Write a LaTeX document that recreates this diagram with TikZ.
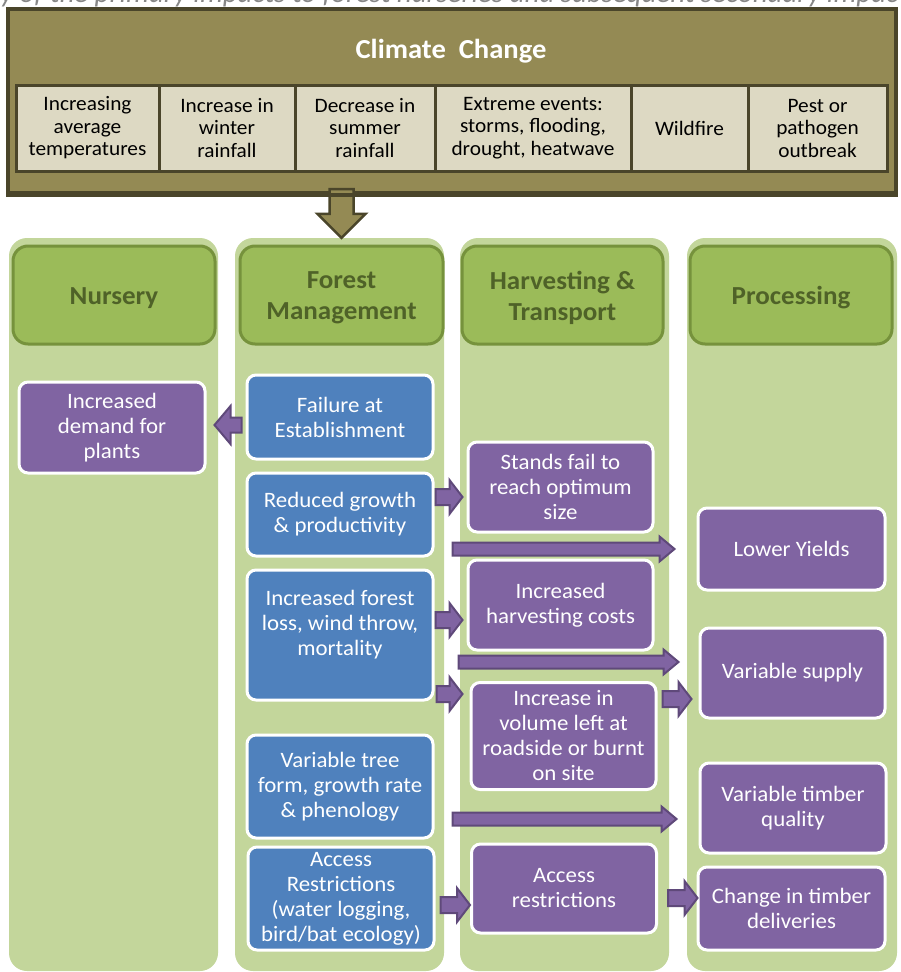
\documentclass[tikz,border=0pt]{standalone}
\usepackage{fontspec}
\setmainfont{Carlito}[FakeStretch=1.04]
\usetikzlibrary{calc}

\definecolor{tanDark}{RGB}{148,138,84}
\definecolor{tanLine}{RGB}{74,69,42}
\definecolor{tanCell}{RGB}{221,217,195}
\definecolor{colGreen}{RGB}{195,214,155}
\definecolor{headGreen}{RGB}{155,187,89}
\definecolor{headLine}{RGB}{118,146,60}
\definecolor{headText}{RGB}{79,98,40}
\definecolor{boxBlue}{RGB}{79,129,189}
\definecolor{boxPurple}{RGB}{128,100,162}
\definecolor{arrowLine}{RGB}{95,73,122}
\definecolor{capGrey}{RGB}{135,135,135}

% Horizontal block arrow: #1 tail point, #2 tip point,
% #3 shaft half width, #4 head half width, #5 head length
\newcommand\blockarrow[5]{%
  \filldraw[blockarrowsty] let \p1=#1, \p2=#2, \n1={(\x2>\x1)?1:-1} in
    (\x1,\y1+#3) -- ({\x2-(\n1)*#5},\y1+#3) -- ({\x2-(\n1)*#5},\y1+#4)
    -- (\x2,\y1) -- ({\x2-(\n1)*#5},\y1-#4) -- ({\x2-(\n1)*#5},\y1-#3)
    -- (\x1,\y1-#3) -- cycle;}

\begin{document}
\begin{tikzpicture}[x=1pt,y=-1pt,
  blockarrowsty/.style={fill=boxPurple,draw=arrowLine,line width=2pt,line join=miter},
  bigarrow/.style={fill=tanDark,draw=tanLine,line width=2.5pt,line join=miter},
  column/.style={fill=colGreen,rounded corners=18pt,inner sep=0pt},
  headbox/.style={fill=headGreen,draw=headLine,line width=3pt,rounded corners=15pt,
    inner sep=0pt,minimum height=98pt},
  headtext/.style={text=headText,align=center,inner sep=0pt,
    font=\bfseries\fontsize{26}{31}\selectfont},
  cell/.style={fill=tanCell,draw=tanLine,line width=3pt,align=center,inner sep=0pt,
    minimum height=86pt,font=\fontsize{20.5}{22.5}\selectfont},
  item/.style={draw=white,line width=3pt,rounded corners=9pt,text=white,align=center,
    inner sep=0pt,font=\fontsize{22}{25}\selectfont},
  blue/.style={item,fill=boxBlue},
  purple/.style={item,fill=boxPurple}]

\useasboundingbox (0,0) rectangle (901,972);
\clip (0,0) rectangle (901,972);

% caption running off the top edge
\node[anchor=base west,inner sep=0pt,text=capGrey,font=\itshape\fontsize{27.8}{32}\selectfont]
  (cap) at (0,2.5) {y of the primary impacts to forest nurseries and subsequent secondary impac};

% four light green columns
\node[column,minimum width=209pt,minimum height=733pt] (col1) at (113.5,604.5) {};
\node[column,minimum width=209pt,minimum height=733pt] (col2) at (339.5,604.5) {};
\node[column,minimum width=209pt,minimum height=733pt] (col3) at (564.5,604.5) {};
\node[column,minimum width=210pt,minimum height=733pt] (col4) at (792,604.5) {};

% column headers
\node[headbox,minimum width=202pt] (h1) at (114,295) {};
\node[headbox,minimum width=203pt] (h2) at (341.5,295) {};
\node[headbox,minimum width=201pt] (h3) at (562.5,295) {};
\node[headbox,minimum width=202pt] (h4) at (791,295) {};
\node[headtext] (h1t) at ($(h1.center)+(0,3)$) {Nursery};
\node[headtext] (h2t) at ($(h2.center)+(0,3)$) {Forest\\Management};
\node[headtext] (h3t) at ($(h3.center)+(0,3)$) {Harvesting \&\\Transport};
\node[headtext] (h4t) at ($(h4.center)+(0,3)$) {Processing};

% climate change panel
\node[draw=tanLine,fill=tanDark,line width=4pt,minimum width=888pt,minimum height=184pt,
  inner sep=0pt] (cc) at (452,101) {};
\filldraw[bigarrow] let \p1=($(h2.north |- cc.south)+(0,-6)$), \p2=(h2.north |- col2.north) in
  (\x1-12pt,\y1) -- (\x1-12pt,\y2+24pt) -- (\x1-24pt,\y2+24pt) -- (\x2,\y2)
  -- (\x1+24pt,\y2+24pt) -- (\x1+12pt,\y2+24pt) -- (\x1+12pt,\y1) -- cycle;
\draw[tanLine,line width=4pt] (cc.south west) -- (cc.south east);
\node[text=white,font=\bfseries\fontsize{27.5}{32}\selectfont] (title) at (451,51) {Climate\ \ Change};

\node[cell,minimum width=143pt] (c1) at (87.5,128) {Increasing\\average\\temperatures};
\node[cell,minimum width=136pt] (c2) at (227,128) {Increase in\\winter\\rainfall};
\node[cell,minimum width=140pt] (c3) at (365,128) {Decrease in\\summer\\rainfall};
\node[cell,minimum width=196pt] (c4) at (533,128) {Extreme events:\\storms, flooding,\\drought, heatwave};
\node[cell,minimum width=117pt] (c5) at (689.5,128) {Wildfire};
\node[cell,minimum width=139pt] (c6) at (817.5,128) {Pest or\\pathogen\\outbreak};

% impact boxes
\node[purple,minimum width=186pt,minimum height=91pt] (dem) at (112,427.5) {Increased\\demand for\\plants};

\node[blue,minimum width=186pt,minimum height=84pt] (fail) at (340,417) {Failure at\\Establishment};
\node[blue,minimum width=186pt,minimum height=83pt] (rg) at (340,514.5) {Reduced growth\\\& productivity};
\node[blue,minimum width=186pt,minimum height=130pt] (fl) at (340,635) {Increased forest\\loss, wind throw,\\mortality\\\mbox{}};
\node[blue,minimum width=186pt,minimum height=103pt] (vt) at (340,786.5) {Variable tree\\form, growth rate\\\& phenology};
\node[blue,minimum width=186pt,minimum height=103pt] (ar) at (341,898.5) {Access\\Restrictions\\(water logging,\\bird/bat ecology)};

\node[purple,minimum width=185pt,minimum height=90pt] (sf) at (560.5,487) {Stands fail to\\reach optimum\\size};
\node[purple,minimum width=185pt,minimum height=90pt] (hc) at (560.5,605) {Increased\\harvesting costs};
\node[purple,minimum width=185pt,minimum height=107pt] (iv) at (563.5,736) {Increase in\\volume left at\\roadside or burnt\\on site};
\node[purple,minimum width=185pt,minimum height=89pt] (acc) at (564,888.5) {Access\\restrictions};

\node[purple,minimum width=187pt,minimum height=82pt] (ly) at (791.5,549) {Lower Yields};
\node[purple,minimum width=185pt,minimum height=90pt] (vs) at (792.5,673) {Variable supply};
\node[purple,minimum width=186pt,minimum height=90pt] (vq) at (793,808) {Variable timber\\quality};
\node[purple,minimum width=187pt,minimum height=83pt] (ct) at (791.5,908.5) {Change in timber\\deliveries};

% short block arrows
\blockarrow{($(fail.west |- 0,425)+(-4,0)$)}{($(dem.east |- 0,425)+(8,0)$)}{7.5pt}{19pt}{16pt}
\blockarrow{($(rg.east |- 0,497)+(1,0)$)}{($(sf.west |- 0,497)+(-4,0)$)}{8pt}{17pt}{13pt}
\blockarrow{($(fl.east |- 0,620)+(1,0)$)}{($(hc.west |- 0,620)+(-4,0)$)}{8pt}{17pt}{13pt}
\blockarrow{($(fl.east |- 0,694)+(2,0)$)}{($(iv.west |- 0,694)+(-7,0)$)}{8pt}{17pt}{13pt}
\blockarrow{($(iv.east |- 0,699)+(5,0)$)}{($(vs.west |- 0,699)+(-7,0)$)}{8pt}{17pt}{13pt}
\blockarrow{($(ar.east |- 0,905)+(5,0)$)}{($(acc.west |- 0,905)+(0,0)$)}{8pt}{17pt}{13pt}
\blockarrow{($(acc.east |- 0,898)+(10,0)$)}{($(ct.west |- 0,898)+(1,0)$)}{8pt}{17pt}{13pt}

% long block arrows across the harvesting column
\blockarrow{($(rg.east |- 0,549)+(18,0)$)}{($(ly.west |- 0,549)+(-22,0)$)}{6.5pt}{12.5pt}{15pt}
\blockarrow{($(fl.east |- 0,662)+(24,0)$)}{($(vs.west |- 0,662)+(-20,0)$)}{6.5pt}{12.5pt}{15pt}
\blockarrow{($(vt.east |- 0,819)+(18,0)$)}{($(vq.west |- 0,819)+(-22,0)$)}{6.5pt}{12.5pt}{15pt}

\end{tikzpicture}
\end{document}
